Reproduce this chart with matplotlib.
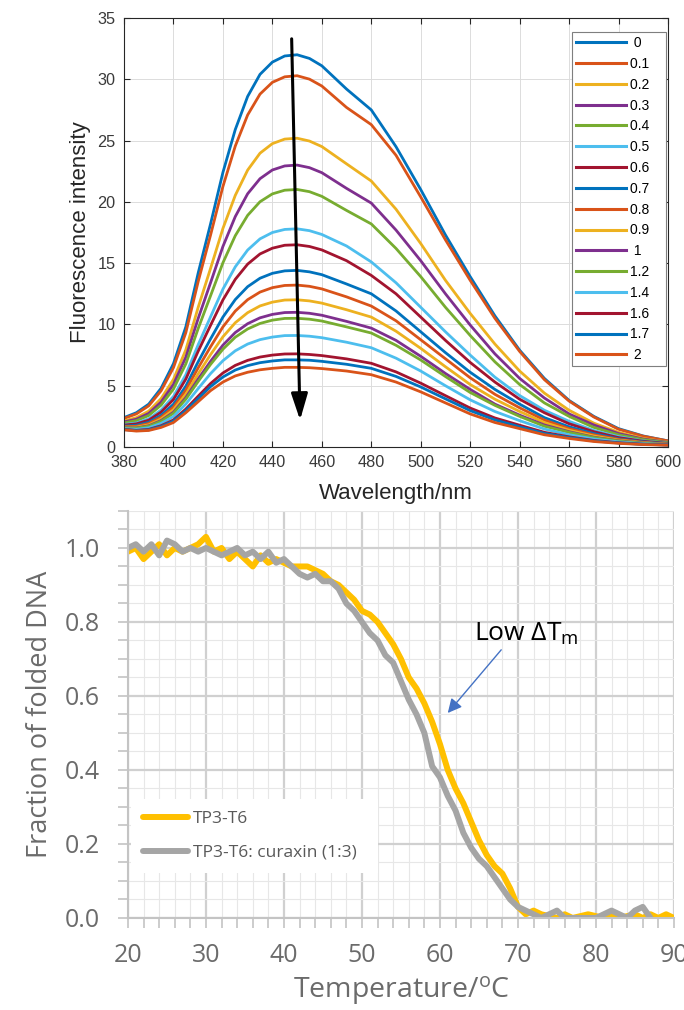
# two stacked panels: fluorescence titration spectra and melting curves

import matplotlib
matplotlib.use("Agg")
import matplotlib.pyplot as plt
from matplotlib.ticker import MultipleLocator

plt.rcParams['mathtext.fontset'] = 'custom'
plt.rcParams['mathtext.rm'] = 'Open Sans'
plt.rcParams['mathtext.it'] = 'Open Sans'

# ---- top panel data ----
wavelength = [380, 385, 390, 395, 400, 405, 410, 415, 420, 425, 430, 435,
              440, 445, 450, 455, 460, 470, 480, 490, 500, 510, 520, 530,
              540, 550, 560, 570, 580, 590, 600]

conc_labels = [' 0', '0.1', '0.2', '0.3', '0.4', '0.5', '0.6', '0.7', '0.8',
               '0.9', ' 1', '1.2', '1.4', '1.6', '1.7', ' 2']

i_0 = [2.4, 2.8, 3.5, 4.8, 6.8, 9.8, 14.2, 18.2, 22.4, 25.9, 28.6, 30.4, 31.4, 31.9, 32.0, 31.7, 31.1, 29.2, 27.5, 24.5, 21.0, 17.3, 13.9, 10.7, 7.9, 5.6, 3.8, 2.5, 1.5, 0.9, 0.5]
i_01 = [2.33, 2.7, 3.36, 4.59, 6.48, 9.33, 13.5, 17.29, 21.25, 24.55, 27.09, 28.79, 29.75, 30.2, 30.29, 30.01, 29.45, 27.7, 26.3, 23.8, 20.4, 16.9, 13.6, 10.5, 7.8, 5.5, 3.75, 2.45, 1.45, 0.88, 0.5]
i_02 = [2.13, 2.4, 2.93, 3.95, 5.52, 7.93, 11.4, 14.57, 17.83, 20.53, 22.59, 23.97, 24.75, 25.12, 25.19, 24.96, 24.51, 23.1, 21.7, 19.4, 16.6, 13.6, 10.9, 8.4, 6.2, 4.4, 3.0, 1.95, 1.2, 0.7, 0.4]
i_03 = [2.05, 2.27, 2.74, 3.67, 5.11, 7.33, 10.49, 13.4, 16.36, 18.8, 20.66, 21.89, 22.6, 22.93, 23.0, 22.79, 22.38, 21.1, 19.9, 17.7, 15.2, 12.5, 9.95, 7.6, 5.6, 4.0, 2.7, 1.8, 1.1, 0.65, 0.38]
i_04 = [1.97, 2.15, 2.57, 3.42, 4.73, 6.78, 9.67, 12.34, 15.03, 17.24, 18.9, 20.01, 20.65, 20.95, 21.01, 20.83, 20.45, 19.3, 18.2, 16.2, 13.9, 11.4, 9.1, 6.95, 5.1, 3.6, 2.5, 1.6, 1.0, 0.6, 0.35]
i_05 = [1.84, 1.96, 2.3, 3.02, 4.13, 5.9, 8.35, 10.62, 12.88, 14.7, 16.07, 16.98, 17.5, 17.75, 17.8, 17.65, 17.34, 16.4, 15.1, 13.4, 11.4, 9.4, 7.5, 5.7, 4.2, 3.0, 2.1, 1.35, 0.85, 0.5, 0.3]
i_06 = [1.79, 1.89, 2.19, 2.85, 3.88, 5.54, 7.82, 9.93, 12.0, 13.68, 14.92, 15.75, 16.22, 16.46, 16.5, 16.36, 16.08, 15.2, 14.0, 12.5, 10.6, 8.7, 6.9, 5.3, 3.9, 2.8, 1.9, 1.25, 0.77, 0.47, 0.29]
i_07 = [1.71, 1.77, 2.02, 2.59, 3.49, 4.97, 6.96, 8.82, 10.6, 12.03, 13.08, 13.77, 14.17, 14.37, 14.41, 14.29, 14.06, 13.3, 12.5, 11.1, 9.4, 7.7, 6.1, 4.7, 3.5, 2.4, 1.65, 1.1, 0.67, 0.42, 0.26]
i_08 = [1.66, 1.69, 1.92, 2.44, 3.26, 4.64, 6.46, 8.18, 9.8, 11.09, 12.02, 12.64, 13.0, 13.18, 13.21, 13.11, 12.9, 12.25, 11.5, 10.3, 8.75, 7.2, 5.65, 4.3, 3.2, 2.2, 1.5, 1.0, 0.62, 0.38, 0.24]
i_09 = [1.62, 1.62, 1.81, 2.29, 3.04, 4.31, 5.97, 7.54, 8.99, 10.14, 10.96, 11.51, 11.82, 11.99, 12.01, 11.92, 11.74, 11.2, 10.6, 9.45, 8.05, 6.55, 5.1, 3.9, 2.9, 2.0, 1.37, 0.9, 0.56, 0.35, 0.23]
i_10 = [1.58, 1.56, 1.73, 2.16, 2.84, 4.03, 5.55, 6.99, 8.31, 9.34, 10.06, 10.54, 10.82, 10.97, 10.99, 10.91, 10.75, 10.25, 9.7, 8.7, 7.4, 6.0, 4.7, 3.5, 2.6, 1.8, 1.25, 0.8, 0.51, 0.32, 0.21]
i_12 = [1.56, 1.54, 1.69, 2.1, 2.75, 3.9, 5.35, 6.74, 7.98, 8.96, 9.63, 10.08, 10.35, 10.49, 10.5, 10.43, 10.28, 9.8, 9.3, 8.3, 7.1, 5.75, 4.45, 3.4, 2.5, 1.7, 1.2, 0.77, 0.49, 0.31, 0.2]
i_14 = [1.5, 1.45, 1.57, 1.93, 2.49, 3.51, 4.77, 5.99, 7.04, 7.85, 8.4, 8.76, 8.97, 9.09, 9.1, 9.04, 8.92, 8.55, 8.1, 7.25, 6.2, 5.0, 3.85, 2.9, 2.15, 1.47, 1.0, 0.66, 0.42, 0.27, 0.19]
i_16 = [1.44, 1.36, 1.44, 1.74, 2.21, 3.1, 4.15, 5.18, 6.04, 6.66, 7.07, 7.34, 7.5, 7.59, 7.6, 7.55, 7.46, 7.19, 6.83, 6.13, 5.21, 4.19, 3.18, 2.37, 1.78, 1.2, 0.83, 0.54, 0.35, 0.23, 0.17]
i_17 = [1.42, 1.34, 1.4, 1.68, 2.12, 2.97, 3.95, 4.93, 5.71, 6.28, 6.64, 6.88, 7.02, 7.11, 7.11, 7.08, 6.99, 6.75, 6.42, 5.76, 4.9, 3.93, 2.97, 2.21, 1.65, 1.11, 0.77, 0.5, 0.33, 0.22, 0.16]
i_20 = [1.4, 1.3, 1.35, 1.6, 2.0, 2.8, 3.7, 4.6, 5.3, 5.8, 6.1, 6.3, 6.42, 6.5, 6.5, 6.47, 6.4, 6.2, 5.9, 5.3, 4.5, 3.6, 2.7, 2.0, 1.5, 1.0, 0.7, 0.45, 0.3, 0.2, 0.15]

spectra = [i_0, i_01, i_02, i_03, i_04, i_05, i_06, i_07, i_08, i_09,
           i_10, i_12, i_14, i_16, i_17, i_20]

# matlab default colour order
matlab_colors = ['#0072BD', '#D95319', '#EDB120', '#7E2F8E', '#77AC30',
                 '#4DBEEE', '#A2142F']

# ---- bottom panel data ----
temp = [20, 21, 22, 23, 24, 25, 26, 27, 28, 29, 30, 31, 32, 33, 34, 35, 36,
        37, 38, 39, 40, 41, 42, 43, 44, 45, 46, 47, 48, 49, 50, 51, 52, 53,
        54, 55, 56, 57, 58, 59, 60, 61, 62, 63, 64, 65, 66, 67, 68, 69, 70,
        71, 72, 73, 74, 75, 76, 77, 78, 79, 80, 81, 82, 83, 84, 85, 86, 87,
        88, 89, 90]

frac_tp3 = [0.99, 1.00, 0.97, 0.99, 1.01, 0.98, 1.00, 0.99, 1.00, 1.01, 1.03,
            0.99, 1.00, 0.97, 0.99, 0.97, 0.95, 0.98, 0.96, 0.97, 0.96, 0.95,
            0.95, 0.95, 0.94, 0.93, 0.91, 0.90, 0.88, 0.86, 0.83, 0.82, 0.80,
            0.77, 0.74, 0.70, 0.65, 0.62, 0.58, 0.53, 0.47, 0.40, 0.35, 0.31,
            0.26, 0.21, 0.17, 0.14, 0.12, 0.08, 0.03, 0.01, 0.02, 0.01, 0.005,
            0.00, 0.01, 0.00, 0.005, 0.01, 0.005, 0.00, 0.01, 0.00, 0.005,
            0.01, 0.00, 0.01, 0.00, 0.01, 0.00]

frac_curaxin = [1.00, 1.01, 0.99, 1.01, 0.98, 1.02, 1.01, 0.99, 1.00, 0.99,
                1.00, 0.99, 0.98, 0.99, 1.00, 0.98, 0.99, 0.97, 0.99, 0.96,
                0.97, 0.95, 0.93, 0.92, 0.93, 0.91, 0.91, 0.89, 0.85, 0.83,
                0.80, 0.77, 0.75, 0.71, 0.69, 0.64, 0.59, 0.55, 0.50, 0.41,
                0.38, 0.33, 0.29, 0.23, 0.19, 0.16, 0.14, 0.11, 0.08, 0.05,
                0.03, 0.02, 0.01, 0.00, 0.01, 0.02, 0.00, 0.00, 0.00, 0.00,
                0.00, 0.01, 0.02, 0.01, 0.00, 0.02, 0.03, 0.00]

fig = plt.figure(figsize=(6.84, 10.10), dpi=100)

# ---------------- top panel ----------------
top_font = 'Liberation Sans'
ax1 = fig.add_axes([0.1813, 0.5574, 0.7953, 0.4248])
for k in range(len(spectra)):
    ax1.plot(wavelength, spectra[k], color=matlab_colors[k % 7], lw=2.0,
             label=conc_labels[k] + '    ', solid_joinstyle='round')

ax1.set_xlim(380, 600)
ax1.set_ylim(0, 35)
ax1.set_xticks(range(380, 601, 20))
ax1.set_yticks(range(0, 36, 5))
ax1.grid(True, color='#dcdcdc', lw=0.7)
ax1.set_axisbelow(True)
ax1.tick_params(direction='in', top=True, right=True, length=4, width=0.8,
                color='#262626', labelcolor='#3a3a3a', pad=6)
for lab in ax1.get_xticklabels() + ax1.get_yticklabels():
    lab.set_fontfamily(top_font)
    lab.set_fontsize(11.7)
for s in ax1.spines.values():
    s.set_color('#262626')
    s.set_linewidth(0.8)

ax1.set_xlabel('Wavelength/nm', fontsize=16, family=top_font,
               color='#262626', labelpad=9)
ax1.set_ylabel('Fluorescence intensity', fontsize=16, family=top_font,
               color='#262626', labelpad=5)

# the arrow going down through the peaks
ax1.annotate('', xy=(451.2, 2.2), xytext=(447.8, 33.3),
             arrowprops=dict(arrowstyle='-|>,head_length=0.8,head_width=0.25',
                             color='black', lw=2.2, mutation_scale=20,
                             shrinkA=0, shrinkB=0))

leg1 = ax1.legend(loc='upper left', bbox_to_anchor=(0.8235, 0.9674, 0.1728, 0),
                  mode='expand', borderaxespad=0,
                  prop={'family': top_font, 'size': 10},
                  handlelength=3.6, handletextpad=0.3, labelspacing=0.49,
                  borderpad=0.3, fancybox=False, edgecolor='#7f7f7f',
                  framealpha=1)
leg1.get_frame().set_linewidth(0.8)
for line in leg1.get_lines():
    line.set_linewidth(2.2)

# ---------------- bottom panel ----------------
bot_font = 'Open Sans'
grey_txt = '#6b6b6b'
ax2 = fig.add_axes([0.1871, 0.0911, 0.7982, 0.4030])
ax2.plot(temp, frac_tp3, color='#FFC000', lw=4.3, label='TP3-T6',
         solid_joinstyle='round', solid_capstyle='round')
ax2.plot(temp[:len(frac_curaxin)], frac_curaxin, color='#A5A5A5', lw=4.3,
         label='TP3-T6: curaxin (1:3)', solid_joinstyle='round',
         solid_capstyle='round')

ax2.set_xlim(20, 90)
ax2.set_ylim(0, 1.1)
ax2.xaxis.set_major_locator(MultipleLocator(10))
ax2.xaxis.set_minor_locator(MultipleLocator(2))
ax2.yaxis.set_major_locator(MultipleLocator(0.2))
ax2.yaxis.set_minor_locator(MultipleLocator(0.05))
ax2.set_yticks([0, 0.2, 0.4, 0.6, 0.8, 1.0])
ax2.set_yticklabels(['0.0', '0.2', '0.4', '0.6', '0.8', '1.0'])
ax2.grid(True, which='major', color='#d0d0d0', lw=1.6)
ax2.grid(True, which='minor', color='#e7e7e7', lw=0.8)
ax2.set_axisbelow(True)
ax2.tick_params(which='both', direction='out', length=7, width=1.2,
                color='#c4c4c4')
ax2.tick_params(axis='y', which='major', pad=13)
ax2.tick_params(axis='x', which='major', pad=11)
for lab in ax2.get_xticklabels() + ax2.get_yticklabels():
    lab.set_fontfamily(bot_font)
    lab.set_fontsize(18)
    lab.set_color(grey_txt)
ax2.spines['top'].set_visible(False)
ax2.spines['right'].set_visible(False)
ax2.spines['left'].set_color('#c4c4c4')
ax2.spines['bottom'].set_color('#c4c4c4')
ax2.spines['left'].set_linewidth(1.5)
ax2.spines['bottom'].set_linewidth(1.5)

ax2.set_xlabel('Temperature/$^{\\mathrm{o}}$C', fontsize=20.5, family=bot_font,
               color=grey_txt, labelpad=4)
ax2.set_ylabel('Fraction of folded DNA', fontsize=19.5, family=bot_font,
               color=grey_txt, labelpad=8)

leg2 = ax2.legend(loc='lower left',
                  bbox_to_anchor=(0.0055, 0.1106, 0.4524, 0.2015),
                  mode='expand', borderaxespad=0,
                  prop={'family': bot_font, 'size': 12.5},
                  handlelength=2.6, handletextpad=0.28, labelspacing=1.0,
                  borderpad=0.7, fancybox=False, edgecolor='none',
                  facecolor='white', framealpha=1)
for t in leg2.get_texts():
    t.set_color('#595959')

ax2.annotate('Low ΔT$_{\\mathrm{m}}$', xy=(61.0, 0.554), xytext=(64.4, 0.749),
             fontsize=19, family=bot_font, color='black',
             ha='left', va='baseline',
             arrowprops=dict(arrowstyle='-|>,head_length=0.6,head_width=0.3',
                             color='#4472C4', lw=1.0, mutation_scale=14,
                             shrinkA=0, shrinkB=0,
                             relpos=(0.28, 0.0)))

fig.savefig('out.png', dpi=100)
